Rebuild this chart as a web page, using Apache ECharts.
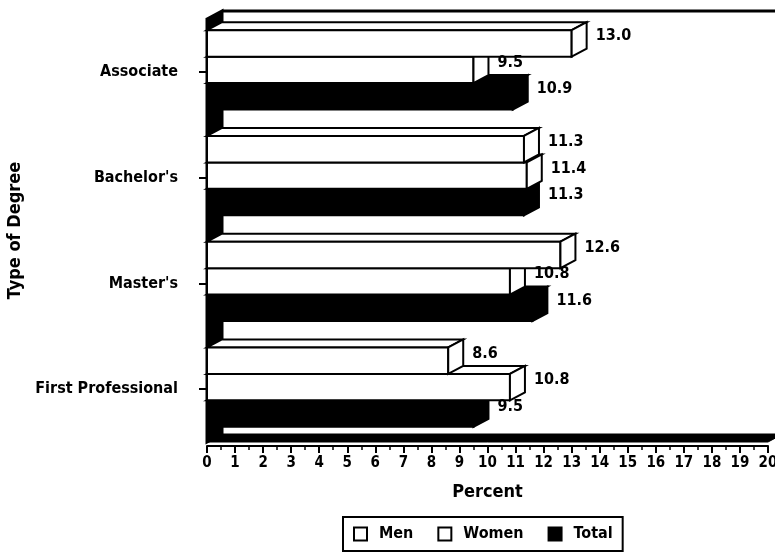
<!DOCTYPE html>
<html>
<head>
<meta charset="utf-8">
<script src="https://cdn.jsdelivr.net/npm/echarts@6/dist/echarts.min.js"></script>
<style>
  html, body { margin: 0; padding: 0; background: #fff; }
  #chart { width: 775px; height: 559px; }
</style>
</head>
<body>
<div id="chart"></div>
<script>
// Degree types (top to bottom) and percentages per group
const categories = ['Associate', "Bachelor's", "Master's", 'First Professional'];
const men   = [13.0, 11.3, 12.6, 8.6];
const women = [9.5, 11.4, 10.8, 10.8];
const total = [10.9, 11.3, 11.6, 9.5];
const seriesNames = ['Men', 'Women', 'Total'];

const FONT = '"DejaVu Sans Condensed", "Liberation Sans Narrow", sans-serif';
const DX = 15, DY = 8;   // depth of the 3D extrusion

// 3D bar: front face, top face, right side face, and a value label
function barRenderer(slot, fill) {
  return function (params, api) {
    const v = api.value(0), c = api.value(1);
    const p0 = api.coord([0, c]);
    const p1 = api.coord([v, c]);
    const band = api.size([0, 1])[1];
    const h = band * 0.25;
    const top = p0[1] - 1.5 * h - 2 + slot * h;
    const x0 = p0[0], x1 = p1[0];
    const z = 10 - slot;
    const style = { fill: fill, stroke: '#000', lineWidth: 2, lineJoin: 'miter' };
    return {
      type: 'group',
      children: [
        { type: 'polygon', z2: z, shape: { points: [[x0, top], [x1, top], [x1 + DX, top - DY], [x0 + DX, top - DY]] }, style: style },
        { type: 'rect', z2: z, shape: { x: x0, y: top, width: x1 - x0, height: h }, style: style },
        { type: 'polygon', z2: z, shape: { points: [[x1, top], [x1 + DX, top - DY], [x1 + DX, top + h - DY], [x1, top + h]] }, style: style },
        { type: 'text', z2: 100, x: x1 + DX + 9, y: top + 6,
          style: { text: v.toFixed(1), fill: '#000', font: 'bold 16px ' + FONT, verticalAlign: 'middle', align: 'left' } }
      ]
    };
  };
}

// Back wall, floor and top edge of the plotting box
function frameRenderer(params) {
  const cs = params.coordSys;
  const gx = cs.x, gy = cs.y, gw = cs.width, gh = cs.height;
  return {
    type: 'group',
    children: [
      { type: 'polygon', z2: 1, shape: { points: [[gx, gy], [gx + DX, gy - DY], [gx + DX, gy + gh - DY], [gx, gy + gh]] },
        style: { fill: '#000', stroke: '#000', lineWidth: 3 } },
      { type: 'polygon', z2: 1, shape: { points: [[gx, gy + gh], [gx + DX, gy + gh - DY], [gx + gw + DX, gy + gh - DY], [gx + gw, gy + gh]] },
        style: { fill: '#000', stroke: '#000', lineWidth: 1 } },
      { type: 'line', z2: 1, shape: { x1: gx + DX, y1: gy - DY, x2: gx + gw + DX, y2: gy - DY },
        style: { stroke: '#000', lineWidth: 3 } }
    ]
  };
}

const toData = arr => arr.map((v, i) => [v, i]);
const legendStyles = [
  { color: '#fff', borderColor: '#000', borderWidth: 2 },
  { color: '#fff', borderColor: '#000', borderWidth: 2 },
  { color: '#000', borderColor: '#000', borderWidth: 2 }
];

const chart = echarts.init(document.getElementById('chart'), null, { renderer: 'canvas' });
chart.setOption({
  animation: false,
  backgroundColor: '#fff',
  grid: { left: 207, right: 7, top: 19, bottom: 117, containLabel: false, outerBoundsMode: 'none' },
  xAxis: {
    type: 'value', min: 0, max: 20, interval: 1, offset: 4,
    axisLine: { show: true, lineStyle: { color: '#000', width: 2 } },
    axisTick: { show: true, length: 7, lineStyle: { color: '#000', width: 2 } },
    minorTick: { show: true, splitNumber: 2, length: 4, lineStyle: { color: '#000', width: 1.5 } },
    splitLine: { show: false },
    axisLabel: { color: '#000', fontFamily: FONT, fontWeight: 'bold', fontSize: 15, margin: 10 },
    name: 'Percent', nameLocation: 'middle', nameGap: 37,
    nameTextStyle: { color: '#000', fontFamily: FONT, fontWeight: 'bold', fontSize: 18 }
  },
  yAxis: {
    type: 'category', data: categories, inverse: true, offset: 5,
    axisLine: { show: true, lineStyle: { color: '#000', width: 1.5 } },
    axisTick: { show: true, alignWithLabel: true, length: 8, lineStyle: { color: '#000', width: 2 } },
    axisLabel: { color: '#000', fontFamily: FONT, fontWeight: 'bold', fontSize: 16, margin: 24 },
    name: 'Type of Degree', nameLocation: 'middle', nameGap: 168, nameRotate: 90,
    nameTextStyle: { color: '#000', fontFamily: FONT, fontWeight: 'bold', fontSize: 18 }
  },
  legend: {
    left: 343, top: 517,
    borderColor: '#000', borderWidth: 2, padding: [9, 10, 9, 10],
    itemWidth: 13, itemHeight: 13, itemGap: 24,
    textStyle: { color: '#000', fontFamily: FONT, fontWeight: 'bold', fontSize: 16, padding: [0, 0, 0, 7] },
    data: seriesNames.map((n, i) => ({ name: n, icon: 'rect', itemStyle: legendStyles[i] }))
  },
  series: [
    { type: 'custom', name: 'frame', silent: true, data: [[0, 0]], renderItem: frameRenderer, z: 1 },
    { type: 'custom', name: 'Total', data: toData(total), renderItem: barRenderer(2, '#000'), itemStyle: { color: '#000' } },
    { type: 'custom', name: 'Women', data: toData(women), renderItem: barRenderer(1, '#fff'), itemStyle: { color: '#fff' } },
    { type: 'custom', name: 'Men', data: toData(men), renderItem: barRenderer(0, '#fff'), itemStyle: { color: '#fff' } }
  ]
});
</script>
</body>
</html>
